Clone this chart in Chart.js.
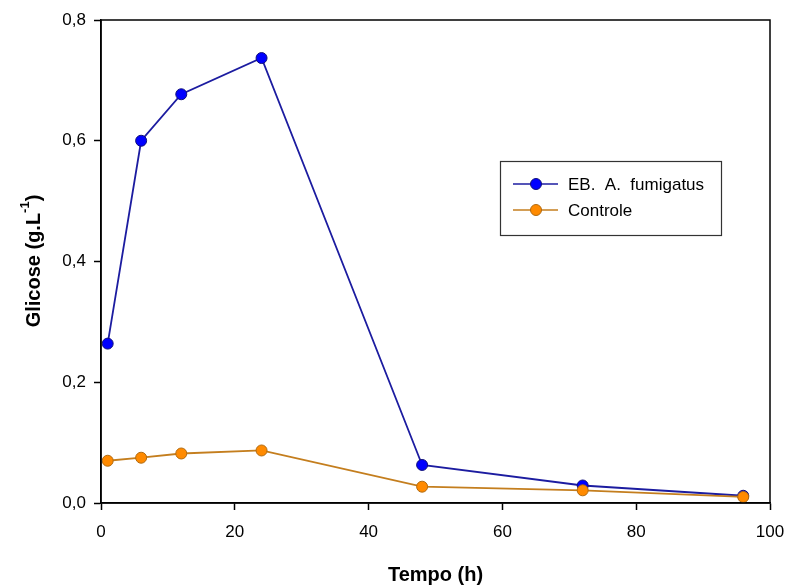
<!DOCTYPE html>
<html>
<head>
<meta charset="utf-8">
<script src="https://cdn.jsdelivr.net/npm/chart.js@4/dist/chart.umd.min.js"></script>
<style>
  html, body { margin: 0; padding: 0; background: #fff; }
  #wrap { width: 789px; height: 587px; }
</style>
</head>
<body>
<div id="wrap"><canvas id="chart" width="789" height="587"></canvas></div>
<script>
// data
var tempo = [1, 6, 12, 24, 48, 72, 96];
var fumigatus = [0.264, 0.600, 0.677, 0.737, 0.063, 0.029, 0.012];
var controle = [0.070, 0.075, 0.082, 0.087, 0.027, 0.021, 0.010];
var xTicks = [0, 20, 40, 60, 80, 100];
var yTicks = [0, 0.2, 0.4, 0.6, 0.8];

var FONT = "'Liberation Sans', Arial, sans-serif";

function pts(xs, ys) {
  var out = [];
  for (var i = 0; i < xs.length; i++) out.push({ x: xs[i], y: ys[i] });
  return out;
}

// frame, y title with superscript and boxed legend
var extras = {
  id: 'extras',
  afterDraw: function(chart) {
    var ctx = chart.ctx, a = chart.chartArea;
    ctx.save();
    ctx.strokeStyle = '#000';
    ctx.lineWidth = 1.5;
    ctx.strokeRect(a.left, a.top, a.right - a.left, a.bottom - a.top);

    // y axis title
    ctx.translate(34, 261);
    ctx.rotate(-Math.PI / 2);
    ctx.fillStyle = '#000';
    ctx.textBaseline = 'middle';
    var main = 'Glicose (g.L', sup = '-1', end = ')';
    ctx.font = 'bold 20px ' + FONT;
    var w1 = ctx.measureText(main).width;
    var w3 = ctx.measureText(end).width;
    ctx.font = 'bold 13px ' + FONT;
    var w2 = ctx.measureText(sup).width;
    var x0 = -(w1 + w2 + w3) / 2;
    ctx.font = 'bold 20px ' + FONT;
    ctx.textAlign = 'left';
    ctx.fillText(main, x0, 0);
    ctx.font = 'bold 13px ' + FONT;
    ctx.fillText(sup, x0 + w1, -9);
    ctx.font = 'bold 20px ' + FONT;
    ctx.fillText(end, x0 + w1 + w2, 0);
    ctx.restore();

    // legend
    ctx.save();
    ctx.strokeStyle = '#333';
    ctx.lineWidth = 1.2;
    ctx.strokeRect(500.5, 161.5, 221, 74);
    var rows = [184, 210];
    chart.data.datasets.forEach(function(ds, i) {
      var y = rows[i];
      ctx.strokeStyle = ds.borderColor;
      ctx.lineWidth = 1.5;
      ctx.beginPath();
      ctx.moveTo(513, y);
      ctx.lineTo(558, y);
      ctx.stroke();
      ctx.beginPath();
      ctx.arc(536, y, ds.pointRadius, 0, Math.PI * 2);
      ctx.fillStyle = ds.pointBackgroundColor;
      ctx.fill();
      ctx.strokeStyle = ds.pointBorderColor;
      ctx.lineWidth = 1;
      ctx.stroke();
      ctx.fillStyle = '#000';
      ctx.font = '17px ' + FONT;
      ctx.textAlign = 'left';
      ctx.textBaseline = 'middle';
      ctx.fillText(ds.label, 568, y + 1);
    });
    ctx.restore();
  }
};

var ctx = document.getElementById('chart').getContext('2d');
var myChart = new Chart(ctx, {
  type: 'line',
  data: {
    datasets: [
      {
        label: 'EB.  A.  fumigatus',
        data: pts(tempo, fumigatus),
        borderColor: '#1c1ca0',
        borderWidth: 1.8,
        pointRadius: 5.5,
        pointBackgroundColor: '#0000ff',
        pointBorderColor: '#10107a',
        pointBorderWidth: 1,
        tension: 0,
        fill: false,
        clip: false,
        order: 1
      },
      {
        label: 'Controle',
        data: pts(tempo, controle),
        borderColor: '#c47e1e',
        borderWidth: 1.8,
        pointRadius: 5.5,
        pointBackgroundColor: '#ff8a00',
        pointBorderColor: '#b06a10',
        pointBorderWidth: 1,
        tension: 0,
        fill: false,
        clip: false,
        order: 0
      }
    ]
  },
  options: {
    responsive: false,
    animation: false,
    layout: { padding: { top: 20, right: 19, left: 0, bottom: 0 } },
    plugins: {
      legend: { display: false },
      tooltip: { enabled: false },
      title: { display: false }
    },
    scales: {
      x: {
        type: 'linear',
        min: 0,
        max: 100,
        afterBuildTicks: function(scale) {
          scale.ticks = xTicks.map(function(v) { return { value: v }; });
        },
        afterFit: function(scale) {
          scale.height = 84;
          scale.paddingLeft = 0;
          scale.paddingRight = 0;
        },
        grid: {
          drawOnChartArea: false,
          drawTicks: true,
          tickLength: 7,
          tickColor: '#000',
          tickWidth: 1.5
        },
        border: { display: true, color: '#000', width: 1.5 },
        ticks: {
          color: '#000',
          font: { family: FONT, size: 17 },
          padding: 12,
          maxRotation: 0,
          callback: function(v) { return String(v); }
        },
        title: {
          display: true,
          text: 'Tempo (h)',
          color: '#000',
          font: { family: FONT, size: 20, weight: 'bold' },
          padding: { top: 13, bottom: 0 }
        }
      },
      y: {
        type: 'linear',
        min: 0,
        max: 0.8,
        afterBuildTicks: function(scale) {
          scale.ticks = yTicks.map(function(v) { return { value: v }; });
        },
        afterFit: function(scale) {
          scale.width = 101;
          scale.paddingTop = 0;
          scale.paddingBottom = 0;
        },
        grid: {
          drawOnChartArea: false,
          drawTicks: true,
          tickLength: 7,
          tickColor: '#000',
          tickWidth: 1.5
        },
        border: { display: true, color: '#000', width: 1.5 },
        ticks: {
          color: '#000',
          font: { family: FONT, size: 17 },
          padding: 8,
          callback: function(v) { return v.toFixed(1).replace('.', ','); }
        }
      }
    }
  },
  plugins: [extras]
});
</script>
</body>
</html>
